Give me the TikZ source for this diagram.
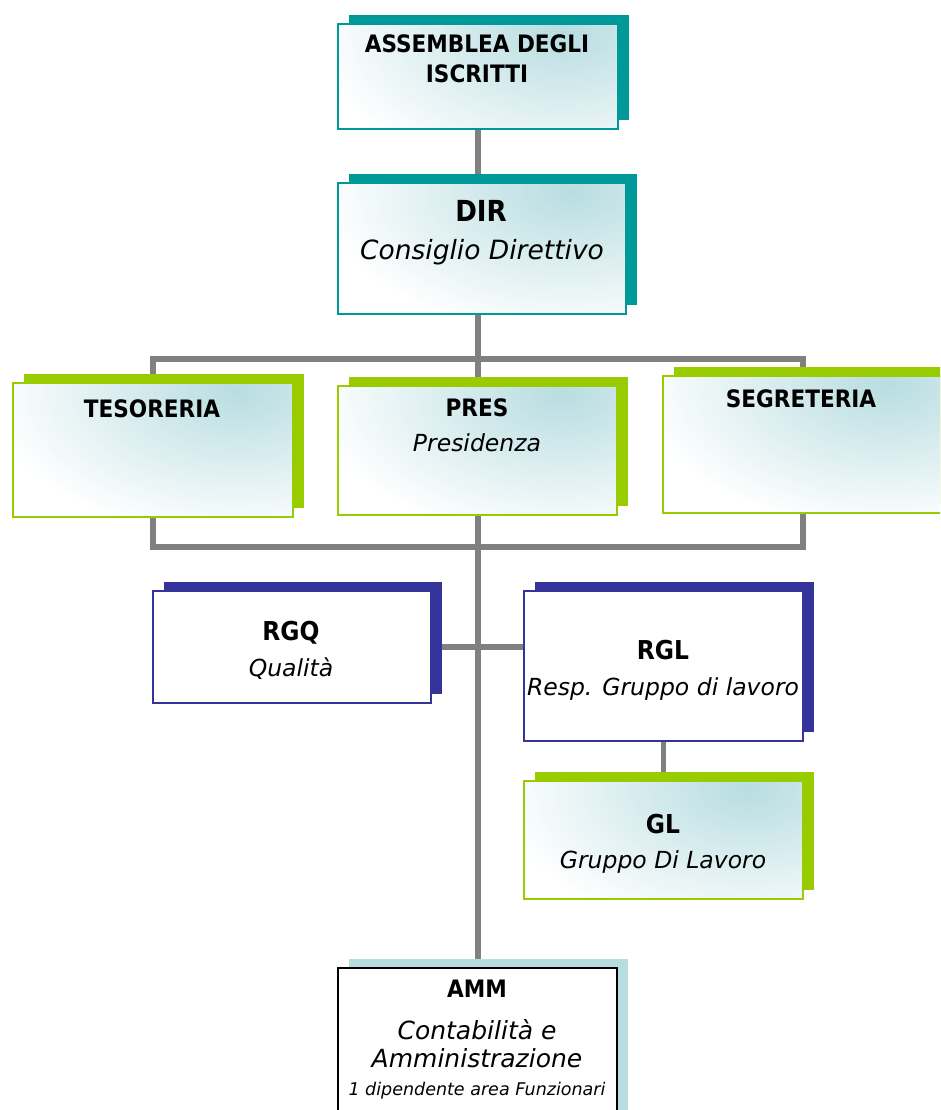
\documentclass[tikz,border=0pt]{standalone}
\usepackage{fontspec}
\setmainfont{DejaVu Sans Condensed}[BoldFont={DejaVu Sans Condensed Bold},ItalicFont={DejaVu Sans Oblique},BoldItalicFont={DejaVu Sans Bold Oblique}]
\usetikzlibrary{shadows,calc,backgrounds}
\definecolor{tealS}{RGB}{0,153,153}
\definecolor{greenS}{RGB}{153,204,0}
\definecolor{blueS}{RGB}{51,51,153}
\definecolor{lblueS}{RGB}{183,221,224}
\definecolor{lineG}{RGB}{128,128,128}
\definecolor{gradC}{RGB}{184,221,225}
\tikzset{
  conn/.style={draw=lineG, line width=6pt},
  orgbox/.style 2 args={draw=#1, line width=1.8pt, fill=white, inner sep=0pt, anchor=north west,
     general shadow={shadow xshift=11pt, shadow yshift=9pt, fill=#2, draw=none}},
  grad/.style={path picture={\shade[inner color=gradC, outer color=white]
     ($(path picture bounding box.north east)+(-55,8)$) ellipse [x radius=250pt, y radius=145pt];}},
  ttl/.style={anchor=base, font=\fontsize{24}{28}\selectfont\bfseries, inner sep=0pt},
  sub/.style={anchor=base, font=\fontsize{23.5}{28}\selectfont\itshape, inner sep=0pt},
}
\begin{document}
\begin{tikzpicture}[x=1pt,y=-1pt]
\path[use as bounding box] (0,0) rectangle (940,1110);
\clip (0,0) rectangle (940,1110);
% boxes
\node[orgbox={tealS}{tealS}, grad, minimum width=280pt, minimum height=105pt] (asm) at (337,23) {};
\node[orgbox={tealS}{tealS}, grad, minimum width=288pt, minimum height=131pt] (dir) at (337,182) {};
\node[orgbox={greenS}{greenS}, grad, minimum width=280pt, minimum height=134pt] (tes) at (12,382) {};
\node[orgbox={greenS}{greenS}, grad, minimum width=279pt, minimum height=129pt] (pres) at (337,385) {};
\node[orgbox={greenS}{greenS}, grad, minimum width=280pt, minimum height=137pt] (seg) at (662,375) {};
\node[orgbox={blueS}{blueS}, minimum width=278pt, minimum height=112pt] (rgq) at (152,590) {};
\node[orgbox={blueS}{blueS}, minimum width=279pt, minimum height=150pt] (rgl) at (523,590) {};
\node[orgbox={greenS}{greenS}, grad, minimum width=279pt, minimum height=118pt] (gl) at (523,780) {};
\node[orgbox={black}{lblueS}, minimum width=279pt, minimum height=175pt] (amm) at (337,967) {};
% connectors
\coordinate (topbus) at (477,359);
\coordinate (botbus) at (477,547);
\begin{scope}[on background layer]
\draw[conn] (asm.south) -- (asm.south |- amm.north);
\draw[conn] (tes.center |- topbus) rectangle (seg.center |- botbus);
\draw[conn] (rgq.east) -- (rgl.west |- rgq.east);
\draw[conn, line width=5pt] (rgl.south) -- (gl.north);
\end{scope}
% texts
\node[ttl] (asmT1) at (477,53) {ASSEMBLEA DEGLI};
\node[ttl] (asmT2) at (477,83) {ISCRITTI};
\node[ttl, font=\fontsize{29}{32}\selectfont\bfseries] (dirT) at (481,221) {DIR};
\node[sub, font=\fontsize{26.5}{30}\selectfont\itshape] (dirS) at (482,259) {Consiglio Direttivo};
\node[ttl] (tesT) at (152,417) {TESORERIA};
\node[ttl] (presT) at (477,416) {PRES};
\node[sub] (presS) at (477,451) {Presidenza};
\node[ttl] (segT) at (801,407) {SEGRETERIA};
\node[ttl, font=\fontsize{26}{30}\selectfont\bfseries] (rgqT) at (291,640) {RGQ};
\node[sub] (rgqS) at (291,676) {Qualità};
\node[ttl, font=\fontsize{26}{30}\selectfont\bfseries] (rglT) at (663,659) {RGL};
\node[sub] (rglS) at (663,695) {Resp. Gruppo di lavoro};
\node[ttl, font=\fontsize{26}{30}\selectfont\bfseries] (glT) at (663,833) {GL};
\node[sub] (glS) at (663,868) {Gruppo Di Lavoro};
\node[ttl] (ammT) at (477,997) {AMM};
\node[sub, font=\fontsize{25}{30}\selectfont\itshape] (ammS1) at (477,1039) {Contabilità e};
\node[sub, font=\fontsize{25}{30}\selectfont\itshape] (ammS2) at (477,1067) {Amministrazione};
\node[sub, font=\fontsize{17.5}{20}\selectfont\itshape] (ammS3) at (477,1095) {1 dipendente area Funzionari};
\end{tikzpicture}
\end{document}
